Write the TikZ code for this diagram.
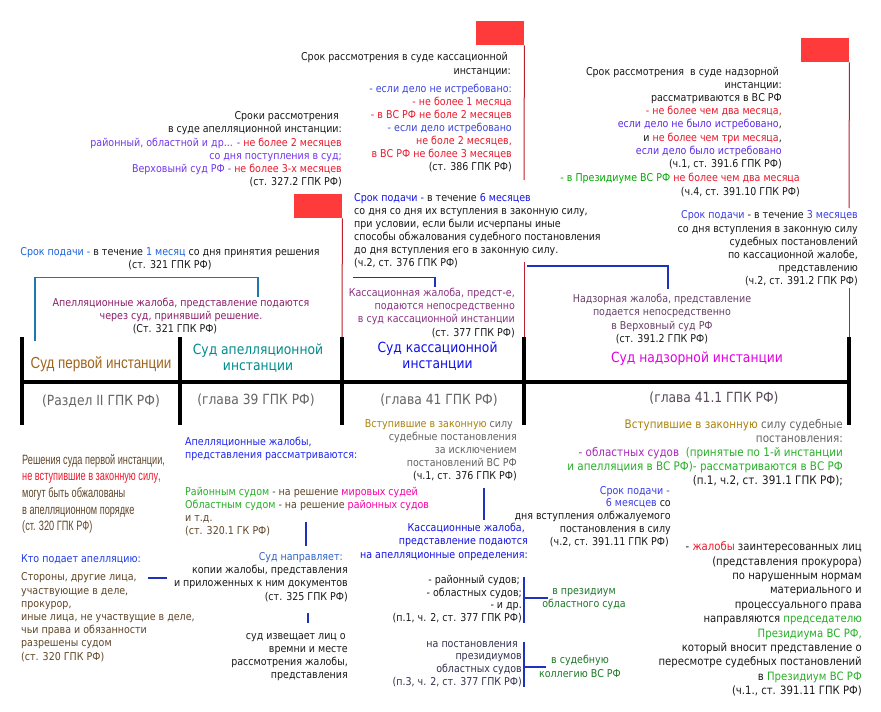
\documentclass[tikz,border=0pt]{standalone}
\usepackage{fontspec}
\setmainfont{DejaVu Sans}[FakeStretch=0.88]
\newfontfamily\narrowfont{Liberation Sans}[FakeStretch=0.68]
\newfontfamily\narrowhdr{Liberation Sans}[FakeStretch=0.84]
\definecolor{tblack}{RGB}{25,25,25}
\definecolor{cviolet}{RGB}{115,55,235}
\definecolor{cvioletC}{RGB}{95,45,235}
\definecolor{cred}{RGB}{235,25,45}
\definecolor{cblueB}{RGB}{60,70,220}
\definecolor{cblueA}{RGB}{30,100,220}
\definecolor{cblueF}{RGB}{20,20,235}
\definecolor{cblueI}{RGB}{60,60,230}
\definecolor{cblueK}{RGB}{30,60,230}
\definecolor{cblueM}{RGB}{30,40,240}
\definecolor{cblueO}{RGB}{50,100,200}
\definecolor{cblueR}{RGB}{20,20,230}
\definecolor{cmaroon}{RGB}{140,30,105}
\definecolor{cmaroon2}{RGB}{140,50,130}
\definecolor{cplum}{RGB}{105,65,105}
\definecolor{cbrownhdr}{RGB}{160,100,25}
\definecolor{cteal}{RGB}{0,140,140}
\definecolor{chdrblue}{RGB}{15,15,235}
\definecolor{cmagenta}{RGB}{225,0,225}
\definecolor{cgray}{RGB}{100,100,100}
\definecolor{cgray2}{RGB}{90,75,90}
\definecolor{cbrown}{RGB}{95,70,40}
\definecolor{cgreen}{RGB}{40,175,40}
\definecolor{cgreenP}{RGB}{0,170,0}
\definecolor{cdgreen}{RGB}{30,120,40}
\definecolor{cpink}{RGB}{250,0,170}
\definecolor{colive}{RGB}{170,130,10}
\definecolor{cpurple}{RGB}{170,40,190}
\definecolor{cnavy}{RGB}{50,50,80}
\definecolor{flagred}{RGB}{255,58,58}
\definecolor{flagdark}{RGB}{190,30,45}
\definecolor{cteal2}{RGB}{30,120,170}
\definecolor{cline}{RGB}{30,50,190}
\begin{document}
\begin{tikzpicture}[x=1pt,y=-1pt,
  rblk/.style={inner sep=0pt, text=tblack, font=\fontsize{10.8}{#1}\selectfont, align=right, anchor=east},
  rblk/.default=13,
  lblk/.style={inner sep=0pt, text=tblack, font=\fontsize{10.8}{#1}\selectfont, align=left, anchor=west},
  lblk/.default=13,
  cblk/.style={inner sep=0pt, text=tblack, font=\fontsize{10.8}{#1}\selectfont, align=center, anchor=center},
  cblk/.default=13,
  hdr/.style={inner sep=0pt, font=\fontsize{14}{16}\selectfont, align=center},
  subhdr/.style={inner sep=0pt, font=\fontsize{14}{16}\selectfont, text=cgray},
  tline/.style={line width=4pt, black},
  flagbox/.style={fill=flagred, draw=none, inner sep=0pt, minimum width=48pt, minimum height=24pt, anchor=north west},
  flagline/.style={draw=flagdark, line width=1pt},
  tealline/.style={draw=cteal2, line width=1.1pt},
  blueline/.style={draw=cline, line width=1.1pt}
]
\useasboundingbox (0,0) rectangle (881,712);
\fill[white] (0,0) rectangle (881,712);

% ---------- flags ----------
\node[flagbox] (flagK) at (476,21) {};
\node[flagbox] (flagA) at (294,194) {};
\node[flagbox] (flagN) at (801,38) {};

% ---------- table ----------
\coordinate (tA) at (342,337);
\coordinate (tK) at (524,337);
\coordinate (tN) at (849,337);
\draw[tline] (20,382) -- (851,382);
\foreach \x in {22,180,342,524,849} \draw[tline] (\x,337) -- (\x,425);

\draw[flagline] (flagA.south east) -- (tA);
\draw[flagline] (flagK.south east) -- (524,180);
\draw[flagline] (524,262) -- (tK);
\draw[flagline] (flagN.south east) -- (849,208);
\draw[flagline] (849,288) -- (tN);

\node[hdr, text=cbrownhdr, font=\narrowhdr\fontsize{16}{17}\selectfont] (h1) at (101,364) {Суд первой инстанции};
\node[hdr, text=cteal] (h2) at (258,358) {Суд апелляционной\\инстанции};
\node[hdr, text=chdrblue] (h3) at (437.5,356) {Суд кассационной\\инстанции};
\node[hdr, text=cmagenta] (h4) at (697,359) {Суд надзорной инстанции};
\node[subhdr] (s1) at (101,400.7) {(Раздел II ГПК РФ)};
\node[subhdr] (s2) at (256,400) {(глава 39 ГПК РФ)};
\node[subhdr] (s3) at (439,400) {(глава 41 ГПК РФ)};
\node[subhdr, text=cgray2] (s4) at (714,398) {(глава 41.1 ГПК РФ)};

% ---------- top texts ----------
\node[rblk=13.1] (termA) at (342,149.3) {Сроки рассмотрения\hspace*{3pt}\\в суде апелляционной инстанции:\\\textcolor{cviolet}{районный, областной и др... -} \textcolor{cred}{не более 2 месяцев}\\\textcolor{cviolet}{со дня поступления в суд;}\\\textcolor{cviolet}{Верховынй суд РФ -} \textcolor{cred}{не более 3-х месяцев}\\(ст. 327.2 ГПК РФ)};

\node[rblk=14] (termBh) at (511,63.7) {Срок рассмотрения в суде кассационной\hspace*{3pt}\\инстанции:};
\node[rblk=12.95] (termB) at (512,127.8) {\textcolor{cblueB}{- если дело не истребовано:}\\\textcolor{cred}{- не более 1 месяца}\\\textcolor{cred}{- в ВС РФ не боле 2 месяцев}\hspace*{3pt}\\\textcolor{cblueB}{- если дело истребовано}\\\textcolor{cred}{не боле 2 месяцев,}\hspace*{3pt}\\\textcolor{cred}{в ВС РФ не более 3 месяцев}\\(ст. 386 ГПК РФ)};

\node[rblk=13.14] (termC) at (782,118) {Срок рассмотрения\ \ в суде надзорной\hspace*{3pt}\\инстанции:\hspace*{3pt}\\рассматриваются в ВС РФ\\\textcolor{cred}{- не более чем два месяца,}\\\textcolor{cvioletC}{если дело не было истребовано},\\и \textcolor{cred}{не более чем три месяца},\\\textcolor{cvioletC}{если дело было истребовано}\\(ч.1, ст. 391.6 ГПК РФ)};
\node[rblk=14] (termC2) at (800,185) {\textcolor{cgreenP}{- в Президиуме ВС РФ} \textcolor{cred}{не более чем два месяца}\\(ч.4, ст. 391.10 ГПК РФ)};

\node[cblk=12.5] (fileA) at (170,258.8) {\textcolor{cblueA}{Срок подачи -} в течение \textcolor{cblueA}{1 месяц} со дня принятия решения\\(ст. 321 ГПК РФ)};
\node[cblk] (subA) at (181,316) {\textcolor{cmaroon}{Апелляционные жалоба, представление подаются}\\\textcolor{cmaroon}{через суд, принявший решение.}\\(Ст. 321 ГПК РФ)\hspace*{12pt}};

\node[lblk] (fileB) at (354,230.5) {\textcolor{cblueF}{Срок подачи -} в течение \textcolor{cblueF}{6 месяцев}\\со дня со дня их вступления в законную силу,\\при условии, если были исчерпаны иные\\способы обжалования судебного постановления\\до дня вступления его в законную силу.\\(ч.2, ст. 376 ГПК РФ)};
\node[rblk=13.2] (subB) at (515,312.8) {\textcolor{cmaroon2}{Кассационная жалоба, предст-е,}\\\textcolor{cmaroon2}{подаются непосредственно}\\\textcolor{cmaroon2}{в суд кассационной инстанции}\\(ст. 377 ГПК РФ)};
\node[cblk=13.3] (subC) at (662,319) {\textcolor{cplum}{Надзорная жалоба, представление}\\\textcolor{cplum}{подается непосредственно}\\\textcolor{cplum}{в Верховный суд РФ}\\(ст. 391.2 ГПК РФ)};
\node[rblk=13.06] (fileC) at (858,248.3) {\textcolor{cblueI}{Срок подачи} - в течение \textcolor{cblueI}{3 месяцев}\\со дня вступления в законную силу\hspace*{3pt}\\судебных постановлений\hspace*{3pt}\\по кассационной жалобе,\hspace*{3pt}\\представлению\\(ч.2, ст. 391.2 ГПК РФ)};

% top connectors
\coordinate (ta1) at (35,341);
\coordinate (ta2) at (35,277.7);
\coordinate (ta3) at (258,277.7);
\coordinate (ta4) at (258,297);
\draw[tealline] (ta1) -- (ta2) -- (ta3) -- (ta4);
\coordinate (tb1) at (353,277.7);
\coordinate (tb2) at (435,277.7);
\coordinate (tb3) at (435,287);
\draw[blueline] (tb1) -- (tb2) -- (tb3);
\coordinate (tc1) at (527,266);
\coordinate (tc2) at (668,266);
\coordinate (tc3) at (668,289);
\draw[blueline] (tc1) -- (tc2) -- (tc3);

% ---------- lower texts ----------
\node[anchor=west, inner sep=0pt, align=left, text=cbrown, font=\narrowfont\fontsize{13.5}{16.6}\selectfont] (decA) at (22,493.8) {Решения суда первой инстанции,\\\textcolor{cred}{не вступившие в законную силу},\\могут быть обжалованы\\в апелляционном порядке\\(ст. 320 ГПК РФ)};
\node[lblk, text=cblueK] (who) at (21,559) {Кто подает апелляцию:};
\node[lblk=13.17, text=cbrown] (whoL) at (21,617.2) {Стороны, другие лица,\\участвующие в деле,\\прокурор,\\иные лица, не участвущие в деле,\\чьи права и обязанности\\разрешены судом\\(ст. 320 ГПК РФ)};
\node[lblk, text=cblueM] (apM) at (185,449.2) {Апелляционные жалобы,\\представления рассматриваются:};
\node[lblk, text=cbrown] (apN) at (185,511.2) {\textcolor{cgreen}{Районным судом} - на решение \textcolor{cpink}{мировых судей}\\\textcolor{cgreen}{Областным судом} - на решение \textcolor{cpink}{районных судов}\\и т.д.\\(ст. 320.1 ГК РФ)};
\node[rblk=13.3] (apO) at (348,577) {\textcolor{cblueO}{Суд направляет:}\hspace*{5pt}\\копии жалобы, представления\hspace*{4pt}\\и приложенных к ним документов\\(ст. 325 ГПК РФ)};
\node[rblk=13.1] (apP) at (348,657.3) {суд извещает лиц о\hspace*{2pt}\\времни и месте\hspace*{2pt}\\рассмотрения жалобы,\hspace*{2pt}\\представления};

\node[rblk, text=cgray] (kQ) at (517,450) {\textcolor{colive}{Вступившие в законную} силу\hspace*{4pt}\\судебные постановления\\за исключением\hspace*{4pt}\\постановлений ВС РФ\\\textcolor{tblack}{(ч.1, ст. 376 ГПК РФ)}};
\node[rblk=13.3, text=cblueR] (kR) at (528,541.7) {Кассационные жалоба,\hspace*{3pt}\\представление подаются\\на апелляционные определения:};
\node[rblk=12.8] (kS) at (522,599.2) {- районный судов;\hspace*{2pt}\\- областных судов;\hspace*{2pt}\\- и др.\hspace*{2pt}\\(п.1, ч. 2, ст. 377 ГПК РФ)};
\node[cblk=13.3, text=cdgreen] (kT) at (584,599.3) {в президиум\\областного суда};
\node[rblk=12.7, text=cnavy] (kU) at (522,664) {на постановления\hspace*{4pt}\\президиумов\\областных судов\\(п.3, ч. 2, ст. 377 ГПК РФ)};
\node[cblk=14, text=cdgreen] (kV) at (580,666) {в судебную\\коллегию ВС РФ};

\node[rblk=14, text=cgray, font=\fontsize{11.8}{14}\selectfont] (nW) at (843,453) {\textcolor{colive}{Вступившие в законную} силу судебные\\постановления:\\\textcolor{cpurple}{- областных судов}\ \ \textcolor{cgreen}{(принятые по 1-й инстанции}\hspace*{4pt}\\\textcolor{cgreen}{и апелляциия в ВС РФ)- рассматриваются в ВС РФ}\\\textcolor{tblack}{(п.1, ч.2, ст. 391.1 ГПК РФ);}};
\node[rblk=12.75] (nX) at (671,516.2) {\textcolor{cblueI}{Срок подачи -}\hspace*{1pt}\\\textcolor{cblueI}{6 меясцев} со\\дня вступления олбжалуемого\hspace*{2pt}\\постановления в силу\\(ч.2, ст. 391.11 ГПК РФ)\hspace*{2pt}};
\node[rblk=14.4, font=\fontsize{11.5}{14.4}\selectfont] (nY) at (862,619) {- \textcolor{cred}{жалобы} заинтересованных лиц\\(представления прокурора)\\по нарушенным нормам\hspace*{4pt}\\материального и\hspace*{4pt}\\процессуального права\\направляются \textcolor{cgreen}{председателю}\hspace*{4pt}\\\textcolor{cgreen}{Президиума ВС РФ,}\\который вносит представление о\hspace*{4pt}\\пересмотре судебных постановлений\\в \textcolor{cgreen}{Президиум ВС РФ}\\(ч.1., ст. 391.11 ГПК РФ)};

% lower connectors
\coordinate (la1) at (306,522); \coordinate (la2) at (306,546);
\draw[blueline] (la1) -- (la2);
\coordinate (lb1) at (308,613); \coordinate (lb2) at (308,623);
\draw[blueline] (lb1) -- (lb2);
\coordinate (lc1) at (148,578); \coordinate (lc2) at (167,578);
\draw[blueline] (lc1) -- (lc2);
\coordinate (ld1) at (484,488); \coordinate (ld2) at (484,520);
\draw[blueline] (ld1) -- (ld2);
\coordinate (le1) at (524,577); \coordinate (le2) at (524,623);
\coordinate (le3) at (524,598); \coordinate (le4) at (548,598);
\draw[blueline] (le1) -- (le2);
\draw[blueline] (le3) -- (le4);
\coordinate (lf1) at (524,642); \coordinate (lf2) at (524,687);
\coordinate (lf3) at (524,667); \coordinate (lf4) at (546,667);
\draw[blueline] (lf1) -- (lf2);
\draw[blueline] (lf3) -- (lf4);
\end{tikzpicture}
\end{document}
